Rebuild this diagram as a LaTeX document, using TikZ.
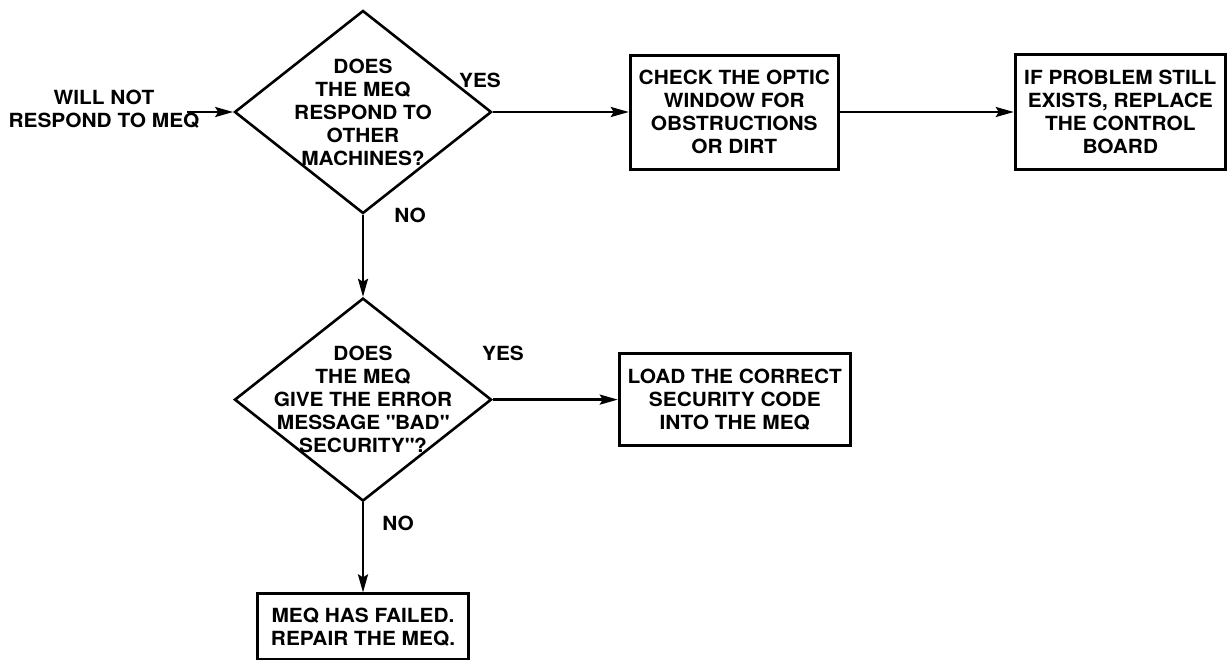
\documentclass[tikz,border=0pt]{standalone}
\usepackage{fontspec}
\setmainfont{TeX Gyre Heros}[FakeStretch=1.07]
\usetikzlibrary{shapes.geometric, arrows.meta, positioning}
\newcommand{\flowfont}{\fontsize{19.5}{23}\selectfont\bfseries}
\tikzset{
  decision/.style = {
    diamond, draw=black, line width=2.6pt,
    minimum width=257pt, minimum height=203pt, inner sep=0pt
  },
  actbox/.style = {
    rectangle, draw=black, line width=3pt,
    inner sep=0pt, align=center, font=\flowfont
  },
  qtext/.style = {align=center, font=\flowfont},
  ans/.style   = {font=\flowfont},
  arr/.style   = {-{Stealth[length=18pt, width=10pt, inset=3pt]}, line width=2.6pt}
}

\begin{document}
\begin{tikzpicture}[x=1pt, y=-1pt]
\useasboundingbox (0,0) rectangle (1228,659);

\node[qtext] (fault) at (104,109) {WILL NOT\\RESPOND TO MEQ};
\coordinate (entry) at (187,112);

\node[decision, label={[qtext]center:DOES\\THE MEQ\\RESPOND TO\\OTHER\\MACHINES?}] (resp) at (363,112) {};

\node[actbox, minimum width=208pt, minimum height=114pt, right=136pt of resp] (optic)
      {CHECK THE OPTIC\\WINDOW FOR\\OBSTRUCTIONS\\OR DIRT};

\node[actbox, minimum width=210pt, minimum height=115pt, right=174pt of optic] (board)
      {IF PROBLEM STILL\\EXISTS, REPLACE\\THE CONTROL\\BOARD};

\node[decision, below=82pt of resp, label={[qtext]center:DOES\\THE MEQ\\GIVE THE ERROR\\MESSAGE \textquotedbl BAD\textquotedbl\\SECURITY\textquotedbl ?}] (secure) {};

\node[actbox, minimum width=231pt, minimum height=92pt, right=125pt of secure] (load)
      {LOAD THE CORRECT\\SECURITY CODE\\INTO THE MEQ};

\node[actbox, minimum width=211pt, minimum height=66pt, below=90pt of secure] (failed)
      {MEQ HAS FAILED.\\REPAIR THE MEQ.};

\node[ans] (yes1) at (480,80) {YES};
\node[ans] (no1) at (410,215) {NO};
\node[ans] (yes2) at (503,353) {YES};
\node[ans] (no2) at (398,523) {NO};

\draw[arr] (entry) -- (resp.west);
\draw[arr] (resp.east) -- (optic.west);
\draw[arr] (optic.east) -- (board.west);
\draw[arr] (resp.south) -- (secure.north);
\draw[arr] (secure.east) -- (load.west);
\draw[arr] (secure.south) -- (failed.north);

\end{tikzpicture}
\end{document}
